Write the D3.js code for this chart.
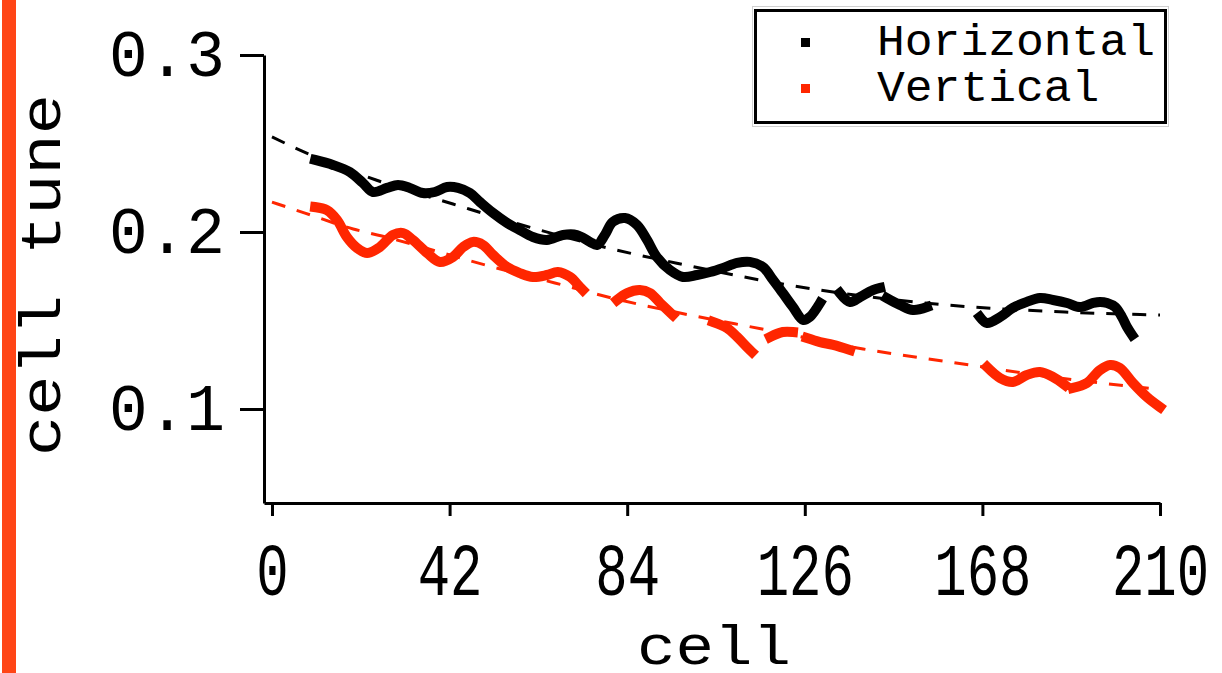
<!DOCTYPE html>
<html>
<head>
<meta charset="utf-8">
<script src="https://cdn.jsdelivr.net/npm/d3@7"></script>
<style>
  body { margin: 0; background: #fff; }
  svg { display: block; }
</style>
</head>
<body>
<div class="chart"></div>
<script>
// values, null = gap in the trace
var xTicks = [0, 42, 84, 126, 168, 210];
var yTicks = [0.1, 0.2, 0.3];

var hCell = [10.2, 14.4, 18.4, 21.5, 23.9, 27.2, 29.8, 32.6, 35.7, 38.5, 41.4, 44.0, 46.8, 49.2, 52.3, 55.6, 58.6, 61.7, 65.0, 68.8, 72.1, 75.2, 76.9, 78.7, 80.6, 83.5, 86.3, 88.7, 91.0, 94.1, 97.2, 100.5, 103.6, 106.7, 110.0, 113.0, 116.1, 118.5, 120.8, 123.2, 125.6, 127.2, 129.6,
  132, 134.3, 136.7, 139.1, 142.1, 143.8,
  144.6, 145.4, 148.5, 151.6, 154.9,
  160, 167.4, 169.1, 172.2, 175.2, 178.5, 181.6, 184.7, 188.0, 191.1, 194.2, 195.8, 197.5, 199.4, 201.0, 202.2, 203.4];
var hTune = [0.2407, 0.2379, 0.2339, 0.2277, 0.2226, 0.2249, 0.2266, 0.2249, 0.2220, 0.2226, 0.2254, 0.2249, 0.2220, 0.2169, 0.2107, 0.2051, 0.2011, 0.1972, 0.1955, 0.1983, 0.1983, 0.1944, 0.1927, 0.1983, 0.2057, 0.2079, 0.2040, 0.1955, 0.1859, 0.1785, 0.1746, 0.1757, 0.1774, 0.1797, 0.1825, 0.1831, 0.1802, 0.1729, 0.1655, 0.1576, 0.1503, 0.1520, 0.1599,
  null, 0.1655, 0.1605, 0.1633, 0.1672, 0.1684,
  null, 0.1627, 0.1588, 0.1559, 0.1576,
  null, 0.1520, 0.1486, 0.1520, 0.1571, 0.1605, 0.1627, 0.1616, 0.1599, 0.1576, 0.1599, 0.1605, 0.1599, 0.1576, 0.1520, 0.1463, 0.1418];

var vCell = [10.2, 13.0, 15.4, 17.7, 20.1, 22.5, 25.5, 28.6, 31.0, 33.3, 36.7, 39.7, 42.8, 45.2, 47.5, 49.9, 52.3, 55.6, 58.6, 61.7, 65.0, 67.6, 70.5, 72.8, 73.5,
  77, 81.6, 84.0, 87.0, 89.4, 91.8, 94.8,
  100, 104.3, 107.6, 110.0, 112.3, 113.5,
  115, 117.8, 120.8, 123.2,
  125, 126.5, 129.6, 132.7, 136.7,
  150, 169.1, 172.2, 175.2, 178.5, 181.6, 184.7, 187.5,
  188.5, 189.4, 192.7, 195.8, 198.2, 200.5, 203.6, 206.9, 210.0];
var vTune = [0.2141, 0.2124, 0.2068, 0.1972, 0.1910, 0.1881, 0.1915, 0.1983, 0.1994, 0.1955, 0.1881, 0.1831, 0.1859, 0.1915, 0.1944, 0.1927, 0.1870, 0.1802, 0.1768, 0.1746, 0.1757, 0.1774, 0.1746, 0.1689, 0.1672,
  null, 0.1616, 0.1655, 0.1672, 0.1655, 0.1599, 0.1531,
  null, 0.1492, 0.1458, 0.1407, 0.1350, 0.1322,
  null, 0.1407, 0.1435, 0.1435,
  null, 0.1401, 0.1378, 0.1362, 0.1333,
  null, 0.1237, 0.1175, 0.1153, 0.1192, 0.1209, 0.1181, 0.1136,
  null, 0.1119, 0.1147, 0.1220, 0.1249, 0.1232, 0.1147, 0.1068, 0.1011];

// dashed fits
var hFitCell = [0, 6.6, 24.6, 42.8, 61.5, 80.4, 97.7, 115.4, 132.7, 159.4, 187.5, 210];
var hFitTune = [0.2537, 0.2463, 0.2294, 0.2158, 0.2023, 0.1904, 0.1814, 0.1729, 0.1661, 0.1588, 0.1548, 0.1531];
var vFitCell = [0, 7.8, 19.2, 26.0, 50.4, 66.9, 80.4, 98.8, 115.9, 139.8, 158.7, 189.9, 202.4, 210];
var vFitTune = [0.2169, 0.2107, 0.2017, 0.1977, 0.1814, 0.1712, 0.1627, 0.1531, 0.1452, 0.1339, 0.1271, 0.1164, 0.1130, 0.1111];

var seriesNames = ["Horizontal", "Vertical"];
var colors = ["#000000", "#ff2600"];

var W = 1222, H = 673;

var svg = d3.select(".chart").append("svg")
    .attr("width", W)
    .attr("height", H);

// orange strip on the left edge
svg.append("rect")
    .attr("x", 2).attr("y", 0)
    .attr("width", 14).attr("height", H)
    .attr("fill", "#ff4516");

var x = d3.scaleLinear().domain([-1.89, 210]).range([264, 1160]);
var y = d3.scaleLinear().domain([0.0469, 0.3]).range([503, 55]);

var monoFont = "'Liberation Mono', 'DejaVu Sans Mono', monospace";

// y axis
var yAxis = svg.append("g")
    .attr("transform", "translate(264,0)")
    .call(d3.axisLeft(y).tickValues(yTicks).tickSize(24).tickSizeOuter(0));
yAxis.select(".domain").attr("stroke-width", 3);
yAxis.selectAll(".tick line").attr("stroke-width", 3);
yAxis.selectAll(".tick text").remove();
yAxis.selectAll(".tick").append("text")
    .attr("x", -97).attr("y", 20)
    .attr("text-anchor", "middle")
    .attr("fill", "#000")
    .style("font-family", monoFont)
    .style("font-size", "67px")
    .attr("textLength", 116)
    .attr("lengthAdjust", "spacingAndGlyphs")
    .text(function(d) { return d3.format(".1f")(d); });

// x axis (labels are tall and narrow in the original, so stretch them vertically)
var xAxis = svg.append("g")
    .attr("transform", "translate(0,503)")
    .call(d3.axisBottom(x).tickValues(xTicks).tickSize(13).tickSizeOuter(0));
xAxis.select(".domain").attr("stroke-width", 3);
xAxis.selectAll(".tick line").attr("stroke-width", 3);
xAxis.selectAll(".tick text").remove();
xAxis.selectAll(".tick").append("text")
    .attr("transform", "translate(0,92) scale(1,1.36)")
    .attr("text-anchor", "middle")
    .attr("fill", "#000")
    .style("font-family", monoFont)
    .style("font-size", "54px")
    .text(function(d) { return d; });

// axis titles
svg.append("text")
    .attr("transform", "translate(60,275) rotate(-90)")
    .attr("text-anchor", "middle")
    .style("font-family", monoFont)
    .style("font-size", "58px")
    .attr("textLength", 362)
    .attr("lengthAdjust", "spacingAndGlyphs")
    .text("cell tune");

svg.append("text")
    .attr("x", 714).attr("y", 664)
    .attr("text-anchor", "middle")
    .style("font-family", monoFont)
    .style("font-size", "56px")
    .attr("textLength", 154)
    .attr("lengthAdjust", "spacingAndGlyphs")
    .text("cell");

// fitted dashed curves
function pairs(cs, vs) {
  return cs.map(function(c, i) { return {cell: c, tune: vs[i]}; });
}
var fit = d3.line()
    .curve(d3.curveMonotoneX)
    .x(function(d) { return x(d.cell); })
    .y(function(d) { return y(d.tune); });

[pairs(hFitCell, hFitTune), pairs(vFitCell, vFitTune)].forEach(function(p, i) {
  svg.append("path")
      .attr("d", fit(p))
      .attr("fill", "none")
      .attr("stroke", colors[i])
      .attr("stroke-width", 3)
      .attr("stroke-dasharray", "14,12");
});

// measured traces (dense square markers in the original)
var trace = d3.line()
    .defined(function(d) { return d.tune != null; })
    .curve(d3.curveCatmullRom)
    .x(function(d) { return x(d.cell); })
    .y(function(d) { return y(d.tune); });

[pairs(hCell, hTune), pairs(vCell, vTune)].forEach(function(p, i) {
  svg.append("path")
      .attr("d", trace(p))
      .attr("fill", "none")
      .attr("stroke", colors[i])
      .attr("stroke-width", 10)
      .attr("stroke-linejoin", "round")
      .attr("stroke-linecap", "square");
});

// legend
var lg = svg.append("g");
lg.append("rect")
    .attr("x", 752.5).attr("y", 6.5)
    .attr("width", 416).attr("height", 120)
    .attr("fill", "#fff")
    .attr("stroke", "#d0d0d0")
    .attr("stroke-width", 1);
lg.append("rect")
    .attr("x", 755.5).attr("y", 10.5)
    .attr("width", 410).attr("height", 112)
    .attr("fill", "#fff")
    .attr("stroke", "#000")
    .attr("stroke-width", 3);

seriesNames.forEach(function(name, i) {
  lg.append("rect")
      .attr("x", 801).attr("y", 38 + i * 46)
      .attr("width", 9).attr("height", 9)
      .attr("fill", colors[i]);
  lg.append("text")
      .attr("x", 877).attr("y", 55 + i * 46)
      .style("font-family", "'Liberation Mono', 'Courier New', monospace")
      .style("font-size", "44px")
      .attr("textLength", name.length * 27.8)
      .attr("lengthAdjust", "spacingAndGlyphs")
      .text(name);
});
</script>
</body>
</html>
